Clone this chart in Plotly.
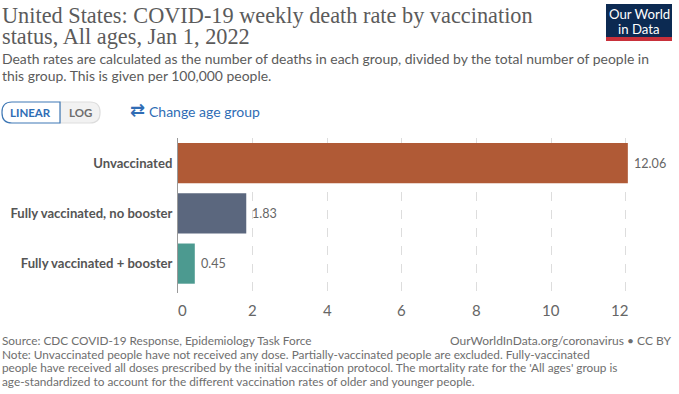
import plotly.graph_objects as go

W, H = 679, 394
L, R, T, B = 178, 640, 138, 293

categories = ["Unvaccinated", "Fully vaccinated, no booster", "Fully vaccinated + booster"]
death_rates = [12.06, 1.83, 0.45]
value_labels = ["12.06", "1.83", "0.45"]
bar_colors = ["#B05A36", "#5B677E", "#4C9A90"]
x_ticks = [0, 2, 4, 6, 8, 10, 12]

title_lines = ["United States: COVID-19 weekly death rate by vaccination",
               "status, All ages, Jan 1, 2022"]
subtitle_lines = ["Death rates are calculated as the number of deaths in each group, divided by the total number of people in",
                  "this group. This is given per 100,000 people."]
note_lines = ["Source: CDC COVID-19 Response, Epidemiology Task Force",
              "Note: Unvaccinated people have not received any dose. Partially-vaccinated people are excluded. Fully-vaccinated",
              "people have received all doses prescribed by the initial vaccination protocol. The mortality rate for the 'All ages' group is",
              "age-standardized to account for the different vaccination rates of older and younger people."]


def px(x):
    return (x - L) / (R - L)


def py(y):
    return (B - y) / (B - T)


fig = go.Figure(go.Bar(
    x=death_rates, y=categories, orientation="h",
    marker=dict(color=bar_colors, line=dict(width=0)),
    cliponaxis=False, hoverinfo="skip", width=0.8,
))

anns = []

for v, c, s in zip(death_rates, categories, value_labels):
    anns.append(dict(xref="x", yref="y", x=v, y=c, text=s, showarrow=False, xanchor="left",
                     yanchor="middle", xshift=5, borderpad=0,
                     font=dict(family="Lato", size=12.6, color="#666666")))

# x tick labels: the first and last are nudged inward, as in the reference
for t in x_ticks:
    shift = 4.5 if t == x_ticks[0] else (-6.5 if t == x_ticks[-1] else 0)
    anns.append(dict(xref="x", yref="paper", x=t, y=py(310), text=str(t), showarrow=False,
                     xanchor="center", yanchor="middle", xshift=shift, borderpad=0,
                     font=dict(family="Lato", size=15, color="#666666")))


def text(x, y, s, size, color, family="Lato", anchor="left", **kw):
    anns.append(dict(xref="paper", yref="paper", x=px(x), y=py(y), text=s, showarrow=False,
                     xanchor=anchor, yanchor="middle", align=anchor,
                     font=dict(family=family, size=size, color=color),
                     borderpad=0, **kw))


for s, y in zip(title_lines, [15, 36.5]):
    text(1, y, s, 22.3, "#5B5B5B", "Liberation Serif")
for s, y in zip(subtitle_lines, [58, 75]):
    text(1, y, s, 13.95, "#5B5B5B")
for s, y in zip(note_lines, [340.5, 354, 367.5, 381]):
    text(1, y, s, 11.82, "#6E6E6E")
text(672.5, 340.5, "OurWorldInData.org/coronavirus • CC BY", 12.0, "#6E6E6E", anchor="right")
text(30, 112, "<b>LINEAR</b>", 11.5, "#2F6DB5", anchor="center")
text(80, 112, "<b>LOG</b>", 11.5, "#6E6E6E", anchor="center")
text(129, 109.5, "<b>⇄</b>", 18, "#2F6DB5", "DejaVu Sans")
text(148, 111, "Change age group", 14, "#2F6DB5")
text(639, 14, "Our World", 13.2, "#FFFFFF", anchor="center")
text(639, 29, "in Data", 13.2, "#FFFFFF", anchor="center")


def rect(x0, y0, x1, y1, **kw):
    return dict(type="rect", xref="paper", yref="paper", x0=px(x0), x1=px(x1),
                y0=py(y1), y1=py(y0), layer="above", **kw)


def pill(x0, y0, x1, y1, r_left, r_right, fill, line):
    xa, xb = px(x0), px(x1)
    ya, yb = py(y0), py(y1)
    kx, ky = 1 / (R - L), 1 / (B - T)
    rx, ry = r_left * kx, r_left * ky
    sx, sy = r_right * kx, r_right * ky
    path = (f"M {xa + rx} {ya} L {xb - sx} {ya} Q {xb} {ya} {xb} {ya - sy} "
            f"L {xb} {yb + sy} Q {xb} {yb} {xb - sx} {yb} "
            f"L {xa + rx} {yb} Q {xa} {yb} {xa} {yb + ry} "
            f"L {xa} {ya - ry} Q {xa} {ya} {xa + rx} {ya} Z")
    return dict(type="path", xref="paper", yref="paper", path=path, fillcolor=fill,
                line=dict(color=line, width=1.2), layer="below")


shapes = [
    pill(60, 102, 100, 123, 0, 10, "#F2F2F2", "#DDDDDD"),
    pill(2, 102, 60, 123, 10, 0, "#FFFFFF", "#3F78B5"),
    rect(606, 4, 672, 41, fillcolor="#0C2A52", line=dict(width=0)),
    rect(606, 37, 672, 41, fillcolor="#C8303A", line=dict(width=0)),
]

fig.update_layout(
    width=W, height=H, autosize=False,
    margin=dict(l=L, r=W - R, t=T, b=H - B, pad=0),
    paper_bgcolor="#FFFFFF", plot_bgcolor="#FFFFFF",
    showlegend=False, annotations=anns, shapes=shapes,
    xaxis=dict(range=[0, (R - L) / 37.3], tickvals=x_ticks, ticks="", showline=False, automargin=False,
               showgrid=True, gridcolor="#DDDDDD", griddash="dash", gridwidth=1, zeroline=False,
               showticklabels=False),
    yaxis=dict(range=[2.585, -0.5], ticks="", showgrid=False, zeroline=False, automargin=False,
               showline=True, linecolor="#999999", linewidth=1, ticklabelstandoff=2,
               tickfont=dict(family="Lato", size=13.1, color="#555555", weight="bold")),
)

fig.write_html("out.html", config={"displayModeBar": False},
               post_script="document.body.style.margin='0';")
